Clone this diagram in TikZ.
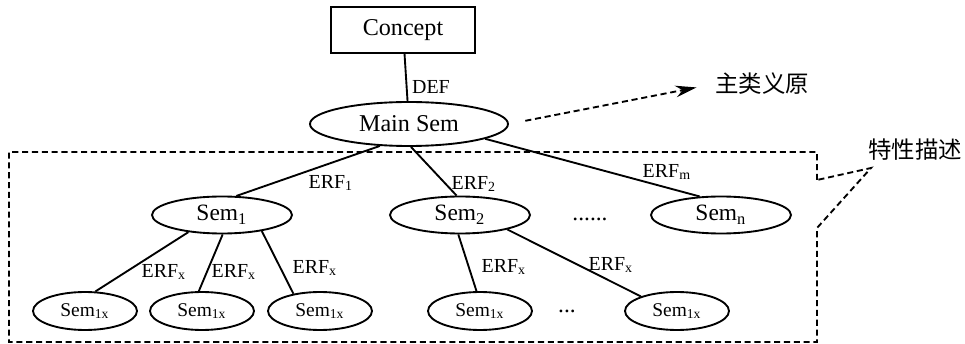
\documentclass[tikz,border=0pt]{standalone}
\usepackage{fontspec}
\setmainfont{Liberation Serif}
\newfontfamily\cjk{Noto Sans CJK SC}
\usetikzlibrary{shapes.geometric,arrows.meta}

\begin{document}
\begin{tikzpicture}[x=0.015cm,y=-0.015cm,line width=0.8pt,
  sem/.style={draw,ellipse,inner sep=0pt,minimum width=2.1cm,minimum height=0.555cm,font=\fontsize{10}{12}\selectfont},
  leaf/.style={draw,ellipse,inner sep=0pt,minimum width=1.56cm,minimum height=0.57cm,font=\fontsize{8.3}{10}\selectfont},
  erf/.style={inner sep=0pt,font=\fontsize{8.5}{10}\selectfont},
  dash box/.style={dash pattern=on 2.6pt off 1.6pt}]
\useasboundingbox (0,0) rectangle (965,344);
\node[draw,inner sep=0pt,minimum width=2.16cm,minimum height=0.69cm,font=\fontsize{10.3}{12}\selectfont] (concept) at (403,30) {Concept};
\node[draw,ellipse,inner sep=0pt,minimum width=2.97cm,minimum height=0.66cm,font=\fontsize{10.3}{12}\selectfont] (mainsem) at (409,124) {Main Sem};
\node[sem] (sem1) at (222,215) {Sem\textsubscript{1}};
\node[sem] (sem2) at (460,215) {Sem\textsubscript{2}};
\node[sem] (semn) at (721,215) {Sem\textsubscript{n}};
\node[leaf] (s1a) at (85,311) {Sem\textsubscript{1x}};
\node[leaf] (s1b) at (202,311) {Sem\textsubscript{1x}};
\node[leaf] (s1c) at (320,311) {Sem\textsubscript{1x}};
\node[leaf] (s2a) at (480,311) {Sem\textsubscript{1x}};
\node[leaf] (s2b) at (677,311) {Sem\textsubscript{1x}};
\node[inner sep=0pt] (dots1) at (590,219) {......};
\node[inner sep=0pt] (dots2) at (567,311) {...};
\node[inner sep=0pt,font=\cjk\fontsize{10}{12}\selectfont] (zhu) at (762,84) {主类义原};
\node[inner sep=0pt,font=\cjk\fontsize{10}{12}\selectfont] (tex) at (915,150) {特性描述};

\draw (concept) -- (mainsem);
\node[erf] (def) at (431,87) {DEF};
\draw (mainsem.217) -- (sem1.53);
\draw (mainsem.275) -- (sem2.100);
\draw (mainsem.-11) -- (semn.139);
\draw (sem1.207) -- (s1a.62);
\draw (sem1.272) -- (s1b.99);
\draw (sem1.-22) -- (s1c.147);
\draw (sem2.265) -- (s2a.100);
\draw (sem2.-17) -- (s2b.158);

\node[erf] (l1) at (331,183) {ERF\textsubscript{1}};
\node[erf] (l2) at (474,184) {ERF\textsubscript{2}};
\node[erf] (lm) at (667,172) {ERF\textsubscript{m}};
\node[erf] (la) at (164,272) {ERF\textsubscript{x}};
\node[erf] (lb) at (234,272) {ERF\textsubscript{x}};
\node[erf] (lc) at (315,268) {ERF\textsubscript{x}};
\node[erf] (ld) at (504,267) {ERF\textsubscript{x}};
\node[erf] (le) at (611,265) {ERF\textsubscript{x}};

\draw[dash box,-{Stealth[length=9pt,width=5pt]},shorten <=0.25cm,shorten >=0.27cm] (mainsem.east) -- (zhu.west);
\coordinate (tip) at (871,168);
\draw[dash box] (817,180) -- (817,152) -- (9,152) -- (9,342) -- (817,342) -- (817,228) -- (tip) -- cycle;
\end{tikzpicture}
\end{document}
